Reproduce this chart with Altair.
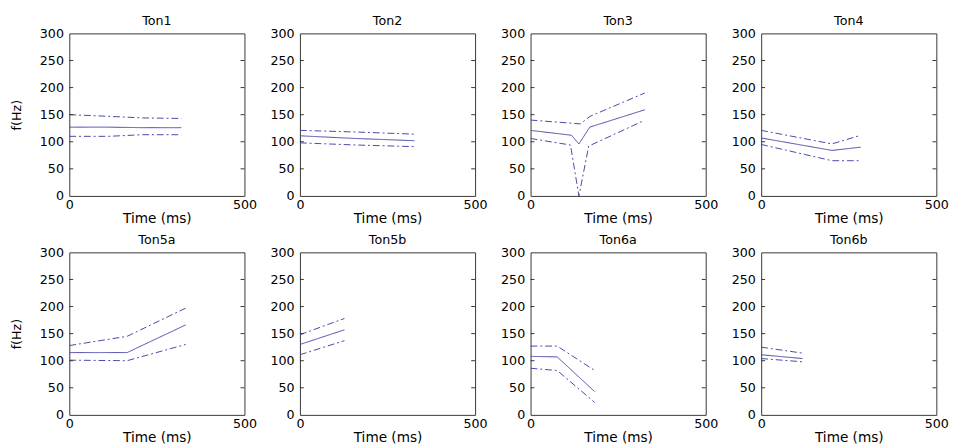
import altair as alt
import pandas as pd

# ---- data (time in ms, frequency in Hz) ----
panel_names = ["Ton1", "Ton2", "Ton3", "Ton4", "Ton5a", "Ton5b", "Ton6a", "Ton6b"]

ton1_t = [0, 110, 210, 320]
ton1_mean = [127, 127, 126, 126]
ton1_upper = [150, 147, 144, 143]
ton1_lower = [110, 110, 113, 113]

ton2_t = [0, 160, 327]
ton2_mean = [111, 106, 102]
ton2_upper = [121, 118, 114]
ton2_lower = [98, 94, 91]

ton3_mean_t = [0, 117, 138, 169, 326]
ton3_mean = [121, 112, 96, 127, 159]
ton3_upper_t = [0, 142, 170, 326]
ton3_upper = [140, 133, 147, 190]
ton3_lower_t = [0, 114, 138, 166, 320]
ton3_lower = [106, 94, 0, 92, 138]

ton4_t = [0, 202, 284]
ton4_mean = [107, 84, 90]
ton4_upper = [121, 96, 112]
ton4_lower = [95, 65, 65]

ton5a_t = [0, 165, 332]
ton5a_mean = [115, 115, 166]
ton5a_upper = [128, 145, 197]
ton5a_lower = [101, 100, 130]

ton5b_t = [0, 127]
ton5b_mean = [130, 157]
ton5b_upper = [148, 178]
ton5b_lower = [111, 137]

ton6a_t = [0, 76, 183]
ton6a_mean = [108, 107, 43]
ton6a_upper = [127, 127, 82]
ton6a_lower = [86, 82, 23]

ton6b_t = [0, 118]
ton6b_mean = [111, 104]
ton6b_upper = [125, 114]
ton6b_lower = [104, 98]

y_ticks = [0, 50, 100, 150, 200, 250, 300]
x_ticks = [0, 500]
inner_ticks = [50, 100, 150, 200, 250]

series_table = {
    "Ton1": [(ton1_t, ton1_mean, "mean"), (ton1_t, ton1_upper, "upper"), (ton1_t, ton1_lower, "lower")],
    "Ton2": [(ton2_t, ton2_mean, "mean"), (ton2_t, ton2_upper, "upper"), (ton2_t, ton2_lower, "lower")],
    "Ton3": [(ton3_mean_t, ton3_mean, "mean"), (ton3_upper_t, ton3_upper, "upper"), (ton3_lower_t, ton3_lower, "lower")],
    "Ton4": [(ton4_t, ton4_mean, "mean"), (ton4_t, ton4_upper, "upper"), (ton4_t, ton4_lower, "lower")],
    "Ton5a": [(ton5a_t, ton5a_mean, "mean"), (ton5a_t, ton5a_upper, "upper"), (ton5a_t, ton5a_lower, "lower")],
    "Ton5b": [(ton5b_t, ton5b_mean, "mean"), (ton5b_t, ton5b_upper, "upper"), (ton5b_t, ton5b_lower, "lower")],
    "Ton6a": [(ton6a_t, ton6a_mean, "mean"), (ton6a_t, ton6a_upper, "upper"), (ton6a_t, ton6a_lower, "lower")],
    "Ton6b": [(ton6b_t, ton6b_mean, "mean"), (ton6b_t, ton6b_upper, "upper"), (ton6b_t, ton6b_lower, "lower")],
}

rows = []
for name, lst in series_table.items():
    for ts, vs, s in lst:
        for i, (t, v) in enumerate(zip(ts, vs)):
            rows.append({"panel": name, "series": s, "t": t, "v": v, "i": i})
df = pd.DataFrame(rows)
tick_df = pd.DataFrame({"v": inner_ticks})

W, H = 180, 167
LINE = "#4646a8"
FRAME = "#333333"
FONT = "DejaVu Sans"


def make_panel(name, first_col):
    x_enc = alt.X(
        "t:Q",
        scale=alt.Scale(domain=[0, 500], nice=False),
        axis=alt.Axis(values=x_ticks, title="Time (ms)", grid=False, domain=False,
                      tickSize=0, labelPadding=3, titlePadding=0, labelFlush=False,
                      titleFontSize=14),
    )
    y_enc = alt.Y(
        "v:Q",
        scale=alt.Scale(domain=[0, 300], nice=False),
        axis=alt.Axis(values=y_ticks, title="f(Hz)" if first_col else None, grid=False,
                      domain=False, tickSize=0, labelPadding=6, titlePadding=16,
                      labelFlush=False),
    )
    lines = alt.Chart(df[df.panel == name]).mark_line(
        color=LINE, strokeWidth=1, clip=True
    ).encode(
        x=x_enc,
        y=y_enc,
        strokeDash=alt.StrokeDash(
            "series:N",
            scale=alt.Scale(domain=["mean", "upper", "lower"],
                            range=[[1, 0], [7, 3, 2, 3], [7, 3, 2, 3]]),
            legend=None,
        ),
        order="i:Q",
    )
    left_ticks = alt.Chart(tick_df).mark_rule(color=FRAME, strokeWidth=1).encode(
        y=y_enc, x=alt.value(0), x2=alt.value(4)
    )
    right_ticks = alt.Chart(tick_df).mark_rule(color=FRAME, strokeWidth=1).encode(
        y=y_enc, x=alt.value(W - 4), x2=alt.value(W)
    )
    return alt.layer(lines, left_ticks, right_ticks).properties(
        width=W, height=H, title=alt.TitleParams(name, offset=0)
    )


panels = [make_panel(n, i % 4 == 0) for i, n in enumerate(panel_names)]

chart = alt.concat(
    *panels, columns=4, spacing={"row": 58, "column": 57}, bounds="flush"
).properties(
    padding={"left": 2, "top": 0, "right": 0, "bottom": 0},
    background="white",
).configure_view(
    stroke=FRAME, strokeWidth=1
).configure_axis(
    labelFont=FONT, labelFontSize=13, labelColor="black",
    titleFont=FONT, titleFontSize=13, titleFontWeight="normal", titleColor="black",
).configure_title(
    font=FONT, fontSize=13, fontWeight="normal", color="black", anchor="middle"
)

chart.save("out.html", embed_options={"renderer": "svg", "actions": False})
